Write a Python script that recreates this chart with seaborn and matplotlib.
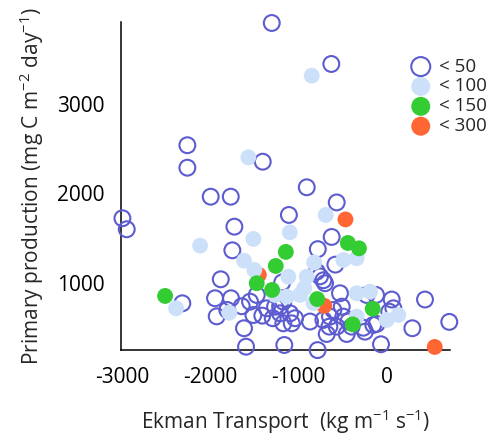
import matplotlib
matplotlib.use("Agg")
import matplotlib.pyplot as plt
import seaborn as sns
import pandas as pd

# ---- data ----
lt50_x = [-1304, -630, -2259, -2259, -1406, -1995, -1768, -2994, -2945, -1727,
          -1750, -1881, -2316, -1946, -1765, -1927, -1807, -1644, -1550, -1618,
          -1595, -1162, -1110, -908, -569, -626, -783, -584, -795, -758,
          -720, -701, -1186, -1474, -1512, -1411, -1361, -1267, -1293, -1210,
          -1173, -1097, -1078, -1041, -1173, -785, -871, -720, -645, -607,
          -569, -494, -532, -512, -652, -682, -456, -437, -400, -268,
          -249, -230, -124, 53, 26, 72, -117, -68, 430, 287,
          705, -1210, -155]
lt50_y = [3905, 3447, 2539, 2288, 2355, 1964, 1964, 1723, 1600, 1629,
          1365, 1041, 773, 829, 829, 627, 698, 740, 791, 494,
          288, 307, 1760, 2069, 1900, 1514, 1378, 1205, 1126, 1074,
          1030, 997, 1006, 866, 642, 635, 717, 735, 606, 661,
          791, 661, 549, 606, 549, 250, 569, 587, 624, 698,
          512, 624, 885, 735, 512, 430, 430, 569, 512, 500,
          456, 866, 866, 815, 679, 717, 542, 315, 815, 494,
          565, 735, 531]

lt100_x = [-852, -1569, -2115, -1512, -1618, -1501, -2387, -1784, -1267, -1100,
           -1116, -1135, -693, -824, -494, -343, -908, -937, -343, -192,
           128, -4, -985, -343, -833]
lt100_y = [3316, 2404, 1417, 1492, 1249, 1145, 717, 668, 866, 1566,
           1070, 847, 1760, 1229, 1257, 1276, 1070, 941, 885, 903,
           642, 587, 866, 624, 776]

lt150_x = [-2511, -1474, -1300, -1259, -1145, -790, -443, -317, -162, -388]
lt150_y = [855, 997, 922, 1190, 1347, 820, 1447, 1387, 712, 537]

lt300_x = [-1450, -470, -710, 540]
lt300_y = [1090, 1710, 745, 285]

labels = ["< 50", "< 100", "< 150", "< 300"]
x_ticks = [-3000, -2000, -1000, 0]
y_ticks = [1000, 2000, 3000]

BLUE = "#5c5cd0"
LIGHT = "#cde0f9"
GREEN = "#33cc33"
ORANGE = "#ff6633"

sns.set_style("white")
plt.rcParams["font.family"] = ["Open Sans", "DejaVu Sans"]
plt.rcParams["mathtext.fontset"] = "custom"
plt.rcParams["mathtext.rm"] = "Open Sans"
plt.rcParams["mathtext.it"] = "Open Sans"
plt.rcParams["mathtext.bf"] = "Open Sans"
plt.rcParams["axes.unicode_minus"] = False

fig = plt.figure(figsize=(4.89, 4.44), dpi=100)
ax = fig.add_axes([121 / 489, 1 - 350 / 444, (450 - 121) / 489, (350 - 22) / 444])

df50 = pd.DataFrame({"x": lt50_x, "y": lt50_y})
df100 = pd.DataFrame({"x": lt100_x, "y": lt100_y})
df150 = pd.DataFrame({"x": lt150_x, "y": lt150_y})
df300 = pd.DataFrame({"x": lt300_x, "y": lt300_y})

S = 130
sns.scatterplot(data=df50, x="x", y="y", ax=ax, s=S, marker="o",
                facecolor="none", edgecolor=BLUE, linewidth=1.5,
                label=labels[0], clip_on=False, zorder=3)
sns.scatterplot(data=df300, x="x", y="y", ax=ax, s=S, marker="o",
                color=ORANGE, edgecolor="none", linewidth=0,
                label=labels[3], clip_on=False, zorder=3)
sns.scatterplot(data=df100, x="x", y="y", ax=ax, s=S, marker="o",
                color=LIGHT, edgecolor="none", linewidth=0,
                label=labels[1], clip_on=False, zorder=4)
sns.scatterplot(data=df150, x="x", y="y", ax=ax, s=S, marker="o",
                color=GREEN, edgecolor="none", linewidth=0,
                label=labels[2], clip_on=False, zorder=5)

ax.set_xlim(-3010, 713)
ax.set_ylim(251, 3916)
ax.set_xticks(x_ticks)
ax.set_yticks(y_ticks)
ax.set_xticklabels([str(v) for v in x_ticks])
ax.set_yticklabels([str(v) for v in y_ticks])

for side in ["top", "right"]:
    ax.spines[side].set_visible(False)
for side in ["left", "bottom"]:
    ax.spines[side].set_color("black")
    ax.spines[side].set_linewidth(1.1)

ax.tick_params(axis="both", direction="in", length=6, width=1.1,
               colors="black", labelsize=15)
ax.tick_params(axis="x", pad=12)
ax.tick_params(axis="y", pad=12)

ax.set_xlabel(r"Ekman Transport  (kg m$^{-1}$ s$^{-1}$)", fontsize=15, labelpad=14)
ax.set_ylabel(r"Primary production (mg C m$^{-2}$ day$^{-1}$)", fontsize=15, labelpad=8)

handles, labs = ax.get_legend_handles_labels()
order = [labs.index(l) for l in labels]
ax.legend([handles[i] for i in order], [labs[i] for i in order],
          loc="upper left", bbox_to_anchor=(402 / 489, 1 - 50 / 444),
          bbox_transform=fig.transFigure, frameon=False, fontsize=13.5,
          handletextpad=0.35, labelspacing=0.1, borderaxespad=0,
          handlelength=1.2, markerscale=1.2)

fig.savefig("out.png", dpi=100)
